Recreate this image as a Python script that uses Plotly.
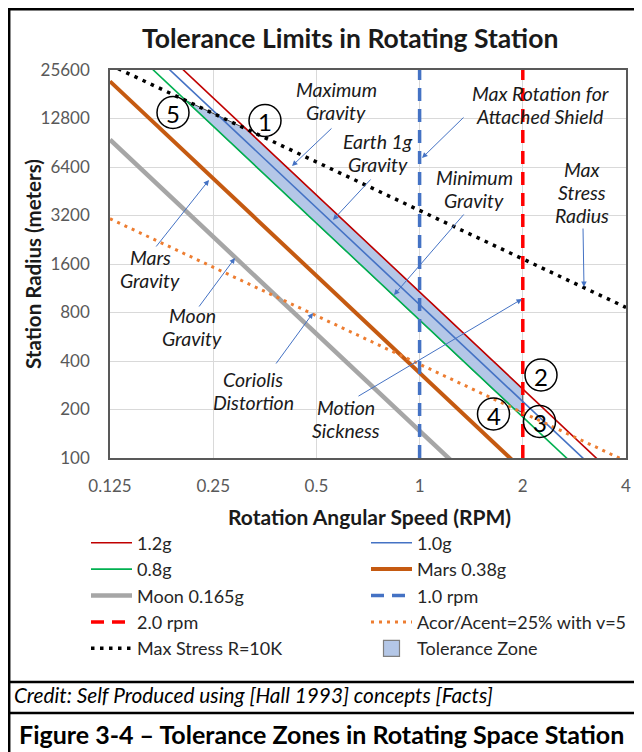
import plotly.graph_objects as go

# ---------------- data ----------------
rpm_pts = [0.125, 0.25, 0.5, 1, 2, 4]
r_12g = [68700, 17180, 4294, 1074, 268, 67]
r_10g = [57250, 14310, 3578, 895, 224, 56]
r_08g = [45800, 11450, 2863, 716, 179, 45]
r_mars = [21760, 5440, 1360, 340, 85, 21]
r_moon = [9450, 2362, 590, 148, 37, 9.2]
r_coriolis = [3056, 1528, 764, 382, 191, 95.5]
r_stress = [27520, 13760, 6880, 3440, 1720, 860]

rpm1_x = [1, 1]
rpm2_x = [2, 2]
vert_y = [100, 25600]

zone_rpm = [0.208, 0.312, 2.0, 2.0, 1.874, 0.208]
zone_r = [16540, 11026, 268, 191, 204, 16540]

x_ticks = [0.125, 0.25, 0.5, 1, 2, 4]
x_ticklabels = ["0.125", "0.25", "0.5", "1", "2", "4"]
y_ticks = [100, 200, 400, 800, 1600, 3200, 6400, 12800, 25600]
y_ticklabels = [str(v) for v in y_ticks]

FONT = "Lato"
ZONE_FILL = "#B4C7E7"

# geometry: figure pixels (page has 8px body offset)
OFF = 8
L, T, W, H = 102, 62, 516, 388


def px(sx):
    return (sx - OFF - L) / W


def py(sy):
    return (T + H - (sy - OFF)) / H


fig = go.Figure()

# zone first so that lines are drawn on top
fig.add_trace(go.Scatter(x=zone_rpm, y=zone_r, fill="toself", mode="lines",
                         fillcolor=ZONE_FILL, line=dict(color="#404040", width=1),
                         name="Tolerance Zone", showlegend=False))

lines = [
    ("1.2g", rpm_pts, r_12g, dict(color="#C00000", width=1.6), "legend", 1),
    ("1.0g", rpm_pts, r_10g, dict(color="#4472C4", width=1.6), "legend2", 1),
    ("0.8g", rpm_pts, r_08g, dict(color="#00B050", width=1.6), "legend", 2),
    ("Mars 0.38g", rpm_pts, r_mars, dict(color="#C55A11", width=4), "legend2", 2),
    ("Moon 0.165g", rpm_pts, r_moon, dict(color="#A6A6A6", width=4.5), "legend", 3),
    ("1.0 rpm", rpm1_x, vert_y, dict(color="#4472C4", width=3.5, dash="13px,8px"), "legend2", 3),
    ("2.0 rpm", rpm2_x, vert_y, dict(color="#FF0000", width=3.5, dash="13px,8px"), "legend", 4),
    ("Acor/Acent=25% with v=5", rpm_pts, r_coriolis,
     dict(color="#ED7D31", width=3, dash="3px,5px"), "legend2", 4),
    ("Max Stress R=10K", rpm_pts, r_stress,
     dict(color="#000000", width=3.5, dash="3.5px,5.5px"), "legend", 5),
]
for name, xs, ys, ln, lg, rank in lines:
    fig.add_trace(go.Scatter(x=xs, y=ys, mode="lines", line=ln, name=name,
                             legend=lg, legendrank=rank))

# legend entry for the zone (square swatch like the reference)
fig.add_trace(go.Scatter(x=[None], y=[None], mode="markers", name="Tolerance Zone",
                         marker=dict(symbol="square", size=16, color=ZONE_FILL,
                                     line=dict(color="#7F7F7F", width=1.2)),
                         legend="legend2", legendrank=5))

annotations = []


def text_ann(txt, sx, sy, size, color="#1a1a1a", style="normal", xanchor="center", angle=0):
    annotations.append(dict(text=txt, x=px(sx), y=py(sy), xref="paper", yref="paper",
                            showarrow=False, xanchor=xanchor, yanchor="middle", textangle=angle,
                            font=dict(family=FONT, size=size, color=color, style=style)))


# italic labels (one annotation per line to keep tight line spacing); centre of the block
label_specs = [
    (["Maximum", "Gravity"], 336, 101),
    (["Max Rotation for", "Attached Shield"], 540, 105),
    (["Earth 1g", "Gravity"], 378, 152.5),
    (["Minimum", "Gravity"], 474, 189),
    (["Max", "Stress", "Radius"], 582, 192),
    (["Mars", "Gravity"], 150, 269),
    (["Moon", "Gravity"], 192, 327),
    (["Coriolis", "Distortion"], 253, 391),
    (["Motion", "Sickness"], 346, 419),
]
LS = 23
for parts, cx, cy in label_specs:
    n = len(parts)
    for i, p in enumerate(parts):
        text_ann(p, cx, cy + LS * (i - (n - 1) / 2), 19.5, style="italic")

# arrows (tail -> head, screen pixels)
arrow_specs = [
    ((333, 127), (292, 166)),
    ((465, 116), (422, 158)),
    ((372, 178), (333, 220)),
    ((465, 213), (394, 295)),
    ((583, 227), (584, 287)),
    ((155, 248), (209, 180)),
    ((198, 308), (235, 258)),
    ((275, 365), (313, 313)),
    ((357, 397), (522, 299)),
]
for (tx, ty), (hx, hy) in arrow_specs:
    annotations.append(dict(text="", x=px(hx), y=py(hy), xref="paper", yref="paper",
                            ax=tx - hx, ay=ty - hy, showarrow=True, arrowhead=2,
                            arrowsize=1.1, arrowwidth=1, arrowcolor="#4472C4",
                            font=dict(size=1), standoff=0, startstandoff=0))

shapes = []
circles = [("5", 173, 112.5), ("1", 265, 120.5), ("2", 541, 375), ("3", 539.5, 421.5), ("4", 493.5, 414)]
R = 16
for num, cx, cy in circles:
    shapes.append(dict(type="circle", xref="paper", yref="paper",
                       x0=px(cx - R), x1=px(cx + R), y0=py(cy + R), y1=py(cy - R),
                       line=dict(color="#000000", width=1.5)))
    text_ann(num, cx, cy + 1, 24, color="#000000")

# titles / frame texts
text_ann("<b>Tolerance Limits in Rotating Station</b>", 350, 38, 26.5)
text_ann("<b>Rotation Angular Speed (RPM)</b>", 369, 517, 21)
text_ann("<b>Station Radius (meters)</b>", 33, 264, 20.5, angle=-90)
text_ann("Credit: Self Produced using [Hall 1993] concepts [Facts]", 12, 694, 20.8,
         color="#000000", style="italic", xanchor="left")
text_ann("<b>Figure 3-4 – Tolerance Zones in Rotating Space Station</b>", 321, 734, 25, color="#000000")

# frame
shapes.append(dict(type="rect", xref="paper", yref="paper", x0=px(OFF + 1.2), x1=px(670),
                   y0=py(780), y1=py(OFF + 1.2), line=dict(color="#000000", width=2.5)))
for yy in (682, 713):
    shapes.append(dict(type="line", xref="paper", yref="paper", x0=px(OFF), x1=px(670),
                       y0=py(yy), y1=py(yy), line=dict(color="#000000", width=2.5)))

legend_common = dict(orientation="v", xanchor="left", yanchor="top", itemwidth=41,
                     font=dict(family=FONT, size=18, color="#262626"),
                     bgcolor="rgba(0,0,0,0)", traceorder="normal", tracegroupgap=0)
LEG_TOP = 524.5 - OFF
fig.update_layout(
    width=642, height=752,
    margin=dict(l=L, r=642 - L - W, t=T, b=752 - T - H, pad=0),
    paper_bgcolor="white", plot_bgcolor="white",
    font=dict(family=FONT, color="#404040"),
    showlegend=True,
    legend=dict(x=(86 - OFF - L) / W, y=(T + H - LEG_TOP) / H, **legend_common),
    legend2=dict(x=(366 - OFF - L) / W, y=(T + H - LEG_TOP) / H, **legend_common),
    annotations=annotations,
    shapes=shapes,
)

fig.update_xaxes(type="log", range=[-0.90309, 0.60206], tickvals=x_ticks, ticktext=x_ticklabels,
                 showgrid=True, gridcolor="#D9D9D9", gridwidth=1, zeroline=False,
                 showline=True, linecolor="#595959", linewidth=1.5, mirror=True,
                 ticks="outside", ticklen=12, tickcolor="rgba(0,0,0,0)",
                 tickfont=dict(family=FONT, size=17, color="#595959"))
fig.update_yaxes(type="log", range=[2, 4.40824], tickvals=y_ticks, ticktext=y_ticklabels,
                 showgrid=True, gridcolor="#D9D9D9", gridwidth=1, zeroline=False,
                 showline=True, linecolor="#595959", linewidth=1.5, mirror=True,
                 ticks="outside", ticklen=15, tickcolor="rgba(0,0,0,0)",
                 tickfont=dict(family=FONT, size=17, color="#595959"))

fig.write_html("out.html")
